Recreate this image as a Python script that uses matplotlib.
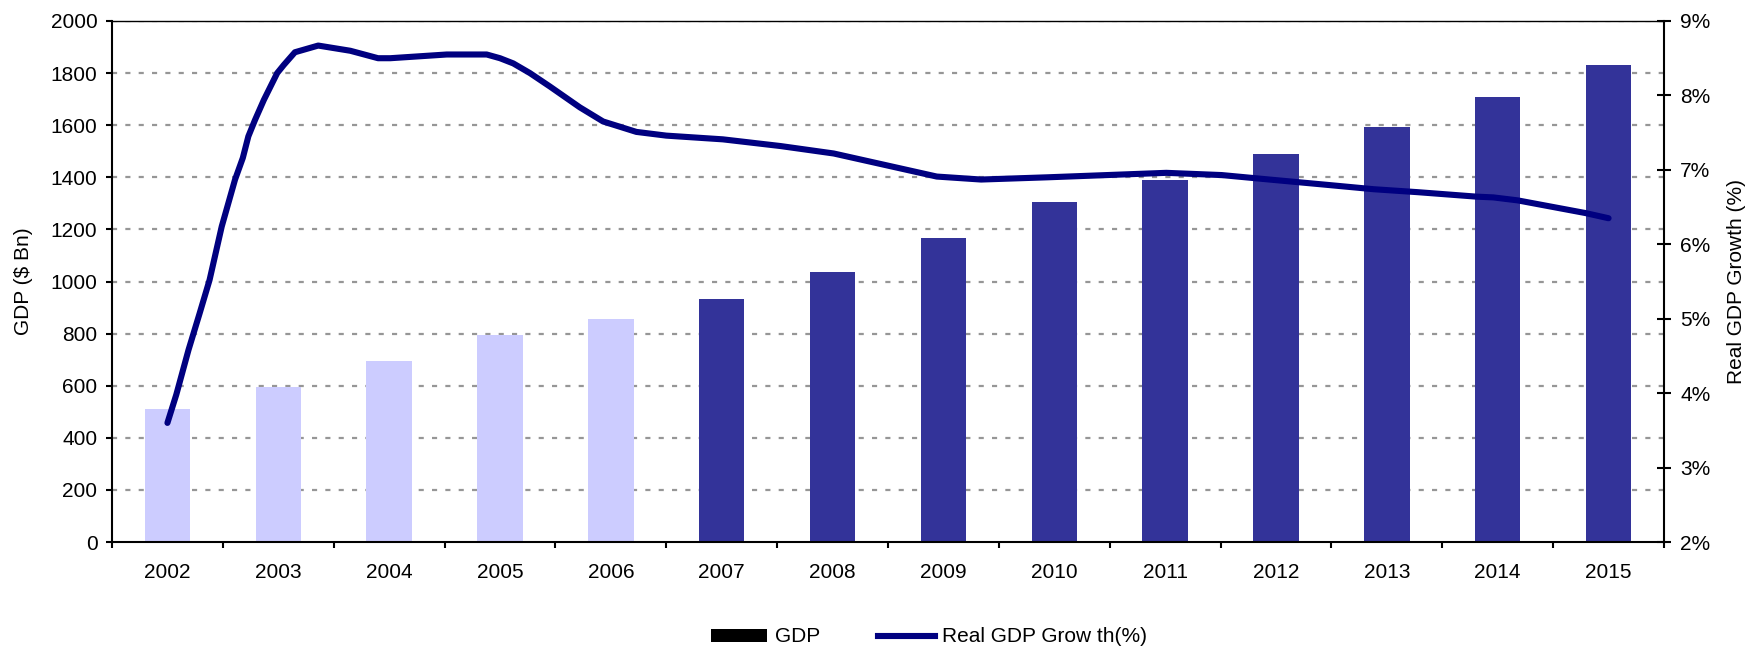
import matplotlib
matplotlib.use("Agg")
import matplotlib.pyplot as plt
import numpy as np
from matplotlib.patches import Patch
from matplotlib.lines import Line2D

plt.rcParams['font.family'] = ['Liberation Sans', 'DejaVu Sans']

###############
# Data
years = [2002, 2003, 2004, 2005, 2006, 2007, 2008,
         2009, 2010, 2011, 2012, 2013, 2014, 2015]
gdp = [510, 595, 695, 795, 855, 932, 1036,
       1167, 1305, 1390, 1488, 1595, 1710, 1832]
n_estimated = 5  # first five bars are drawn in the lighter colour

# growth line (smoothed, read at fractional years)
growth_year = [2002.00, 2002.08, 2002.19, 2002.29, 2002.38, 2002.49, 2002.61,
               2002.68, 2002.73, 2002.79, 2002.87, 2002.99, 2003.05, 2003.15,
               2003.36, 2003.65, 2003.90, 2004.01, 2004.52, 2004.88, 2005.00,
               2005.12, 2005.27, 2005.45, 2005.72, 2005.93, 2006.23, 2006.50,
               2007.01, 2007.53, 2008.01, 2008.46, 2008.73, 2008.94, 2009.34,
               2009.94, 2011.01, 2011.51, 2011.94, 2012.45, 2012.88, 2013.28,
               2013.81, 2013.96, 2014.18, 2014.79, 2015.00]
growth = [3.60, 3.98, 4.58, 5.07, 5.52, 6.24, 6.87,
          7.16, 7.45, 7.67, 7.94, 8.30, 8.41, 8.58,
          8.67, 8.60, 8.50, 8.50, 8.55, 8.55, 8.50,
          8.43, 8.30, 8.12, 7.84, 7.65, 7.51, 7.46,
          7.41, 7.32, 7.22, 7.07, 6.98, 6.91, 6.87,
          6.90, 6.96, 6.93, 6.87, 6.80, 6.74, 6.70,
          6.64, 6.63, 6.59, 6.42, 6.35]

left_ticks = list(range(0, 2001, 200))
right_ticks = list(range(2, 10))

light = '#CCCCFF'
dark = '#333399'
navy = '#000080'
grid_col = '#969696'
fs = 15

###############
fig = plt.figure(figsize=(17.57, 6.47), dpi=100)
ax = fig.add_axes([112/1757, 1-542/647, (1664-112)/1757, (542-21)/647])

x = np.arange(len(years))
colors = [light if i < n_estimated else dark for i in range(len(years))]
ax.bar(x, gdp, width=0.41, color=colors, zorder=2)

ax.set_xlim(-0.5, len(years)-0.5)
ax.set_ylim(0, 2000)
ax.set_yticks(left_ticks)
ax.set_yticklabels([str(v) for v in left_ticks])
ax.set_axisbelow(True)
for v in left_ticks[1:]:
    ax.axhline(v, color=grid_col, lw=1.6, ls=(0, (2.3, 3.7)), zorder=1)

# x ticks at category boundaries, labels at centres
ax.set_xticks(np.arange(-0.5, len(years), 1))
ax.set_xticklabels([])
ax.set_xticks(x, minor=True)
ax.set_xticklabels([str(y) for y in years], minor=True)
ax.tick_params(axis='x', which='major', direction='out', length=4.5, width=1.5)
ax.tick_params(axis='x', which='minor', length=0, pad=15, labelsize=fs)
ax.tick_params(axis='y', direction='out', length=4.5, width=1.5, pad=6, labelsize=fs)

for s in ['left', 'bottom']:
    ax.spines[s].set_linewidth(1.5)
ax.spines['top'].set_linewidth(1.0)
ax.spines['right'].set_visible(False)

ax.set_ylabel('GDP ($ Bn)', fontsize=fs)
ax.yaxis.set_label_coords((33-112)/1552, 0.5)

# growth on the right axis
ax2 = ax.twinx()
gx = [g - years[0] for g in growth_year]
ax2.plot(gx, growth, color=navy, lw=4.4, solid_capstyle='round',
         solid_joinstyle='round', zorder=3)
ax2.set_ylim(2, 9)
ax2.set_yticks(right_ticks)
ax2.set_yticklabels([f'{v}%' for v in right_ticks])
ax2.tick_params(axis='y', direction='inout', length=9.4, width=1.5, pad=7, labelsize=fs)
ax2.spines['right'].set_linewidth(1.5)
for s in ['left', 'top', 'bottom']:
    ax2.spines[s].set_visible(False)
ax2.set_ylabel('Real GDP Growth (%)', fontsize=fs, rotation=90)
ax2.yaxis.set_label_coords((1727-112)/1552, 0.5)

# legend
handles = [Patch(facecolor='black', edgecolor='none'),
           Line2D([0], [0], color=navy, lw=4.4)]
fig.legend(handles, ['GDP', 'Real GDP Grow th(%)'], loc='center',
           bbox_to_anchor=(929/1757, 1-637/647), ncol=2, frameon=False,
           fontsize=fs, handlelength=2.7, handletextpad=0.35,
           columnspacing=2.8, handleheight=0.6)

plt.savefig('out.png', dpi=100)
